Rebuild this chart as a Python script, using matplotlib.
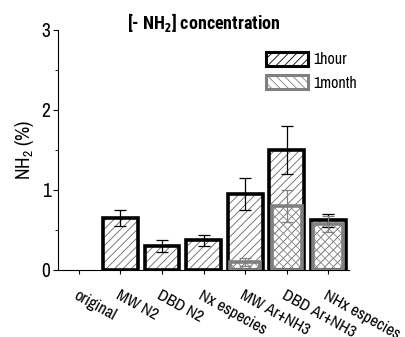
import matplotlib
matplotlib.use("Agg")
import matplotlib.pyplot as plt
import numpy as np
from matplotlib.patches import Patch

plt.rcParams['font.family'] = ['Archivo Narrow', 'DejaVu Sans']
plt.rcParams['mathtext.fontset'] = 'custom'
plt.rcParams['mathtext.rm'] = 'Archivo Narrow'
plt.rcParams['mathtext.bf'] = 'Asap Condensed:bold'
plt.rcParams['hatch.linewidth'] = 0.6

categories = ["original", "MW N2", "DBD N2", "Nx especies",
              "MW Ar+NH3", "DBD Ar+NH3.", "NHx especies"]
hour_vals = [0.0, 0.65, 0.30, 0.37, 0.95, 1.50, 0.62]
hour_err = [0.0, 0.10, 0.08, 0.07, 0.20, 0.30, 0.08]
month_vals = [0.0, 0.0, 0.0, 0.0, 0.10, 0.80, 0.58]
month_err = [0.0, 0.0, 0.0, 0.0, 0.05, 0.20, 0.10]

x = np.arange(len(categories))
hv = np.array(hour_vals)
mv = np.array(month_vals)
has_h = hv > 0
has_m = mv > 0

fig = plt.figure(figsize=(4.06, 3.37), dpi=100)
ax = fig.add_axes([0.143, 0.199, 0.717, 0.712])

# 1 hour bars: hatch layer then thick outline
ax.bar(x[has_h], hv[has_h], width=0.84, color='white', edgecolor='#666666',
       hatch='////', linewidth=0, zorder=2)
ax.bar(x[has_h], hv[has_h], width=0.84, fill=False, edgecolor='black',
       linewidth=2.6, zorder=3)
# 1 month bars drawn inside, transparent fill
ax.bar(x[has_m], mv[has_m], width=0.72, fill=False, edgecolor='#888888',
       hatch='\\\\\\\\', linewidth=0, zorder=4)
ax.bar(x[has_m], mv[has_m], width=0.72, fill=False, edgecolor='#808080',
       linewidth=2.6, zorder=5)

ax.errorbar(x[has_h], hv[has_h], yerr=np.array(hour_err)[has_h], fmt='none',
            ecolor='black', elinewidth=0.9, capsize=4.3, capthick=0.9, zorder=6)
ax.errorbar(x[has_m], mv[has_m], yerr=np.array(month_err)[has_m], fmt='none',
            ecolor='#808080', elinewidth=0.9, capsize=4.3, capthick=0.9, zorder=6)

ax.set_xlim(-0.5, 6.5)
ax.set_ylim(0, 3)
ax.spines['top'].set_visible(False)
ax.spines['right'].set_visible(False)
ax.spines['left'].set_linewidth(0.8)
ax.spines['bottom'].set_linewidth(0.8)

ax.set_yticks([0, 1, 2, 3])
ax.set_yticks([0.5, 1.5, 2.5], minor=True)
ax.tick_params(axis='y', which='major', length=3.5, labelsize=14, pad=2)
ax.tick_params(axis='y', which='minor', length=2.2)
ax.set_xticks(x)
ax.set_xticklabels(categories, rotation=-29, ha='left', va='top',
                   rotation_mode='anchor', fontsize=12)
ax.tick_params(axis='x', length=3, pad=10)

ax.set_ylabel('NH$_2$ (%)', fontsize=14, labelpad=4)
ax.set_title('[- NH$_\\mathbf{2}$] concentration', fontsize=13, fontweight='bold',
             family=['Roboto Condensed', 'Asap Condensed', 'DejaVu Sans'],
             x=0.5, y=0.97)

handles = [Patch(facecolor='white', edgecolor='black', hatch='////', linewidth=2.2),
           Patch(facecolor='white', edgecolor='#808080', hatch='\\\\\\\\', linewidth=2.2)]
ax.legend(handles, ['1hour', '1month'], loc='upper left',
          bbox_to_anchor=(0.715, 0.91), frameon=False, fontsize=11.5,
          borderaxespad=0, borderpad=0,
          handlelength=2.6, handleheight=1.0, handletextpad=0.35, labelspacing=0.5)

fig.savefig('out.png', dpi=100)
